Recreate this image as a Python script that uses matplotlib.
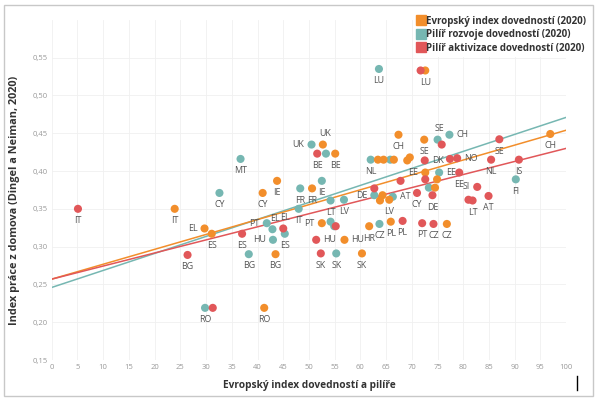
import numpy as np
import matplotlib
matplotlib.use('Agg')
import matplotlib.pyplot as plt
from matplotlib.patches import Rectangle
from matplotlib.lines import Line2D

plt.rcParams['font.family'] = ['Open Sans', 'DejaVu Sans']

# Evropsky index dovednosti (2020)
esi_x = [23.9, 29.7, 31.1, 41.3, 41.0, 43.8, 43.5, 52.7, 55.1, 50.6, 52.5, 56.9, 60.3, 61.7,
         65.9, 76.8, 65.6, 63.8, 64.3, 63.4, 64.5, 66.5, 69.1, 69.6, 67.4, 72.4, 72.6, 72.6,
         74.9, 74.5, 96.9]
esi_y = [0.350, 0.324, 0.317, 0.219, 0.371, 0.387, 0.290, 0.435, 0.423, 0.377, 0.331, 0.309,
         0.291, 0.327, 0.333, 0.330, 0.362, 0.361, 0.368, 0.415, 0.415, 0.415, 0.414, 0.418,
         0.448, 0.4415, 0.533, 0.398, 0.389, 0.378, 0.449]
esi_lab = ['IT', 'EL', 'ES', 'RO', 'CY', 'IE', 'BG', 'UK', 'BE', 'FR', 'PT', 'HU', 'SK', 'HR',
           'PL', 'CZ', 'LV', '', '', '', '', '', '', '', 'CH', 'SE', 'LU', 'EE',
           '', '', 'CH']

# Pilir rozvoje dovednosti (2020)
dev_x = [29.8, 32.6, 36.7, 38.3, 41.8, 42.9, 43.0, 45.3, 48.0, 48.3, 50.5, 53.3, 52.5, 54.2,
         56.8, 54.2, 54.9, 55.3, 63.7, 62.7, 66.3, 62.0, 65.8, 63.6, 75.0, 77.3, 75.3, 73.3, 90.2]
dev_y = [0.219, 0.371, 0.416, 0.290, 0.331, 0.323, 0.309, 0.317, 0.350, 0.377, 0.435, 0.423,
         0.387, 0.361, 0.362, 0.333, 0.327, 0.291, 0.330, 0.368, 0.366, 0.415, 0.415, 0.535,
         0.4415, 0.448, 0.398, 0.378, 0.389]
dev_lab = ['RO', 'CY', 'MT', 'BG', 'PT', 'EL', 'HU', 'ES', 'IT', 'FR', 'UK', '', 'IE', 'LT',
           'LV', '', '', 'SK', 'CZ', 'DE', 'AT', 'NL', '', 'LU', 'SE', 'CH', 'EE', '', 'FI']

# Pilir aktivizace dovednosti (2020)
act_x = [5.1, 26.4, 31.3, 37.0, 45.0, 51.6, 51.4, 52.3, 55.2, 62.7, 68.2, 72.0, 74.2, 67.8,
         71.0, 74.0, 72.6, 72.5, 71.7, 75.8, 77.4, 78.8, 79.2, 82.7, 81.0, 81.8, 84.9, 85.4,
         87.0, 90.8]
act_y = [0.350, 0.289, 0.219, 0.317, 0.324, 0.423, 0.309, 0.291, 0.327, 0.377, 0.334, 0.331,
         0.330, 0.387, 0.371, 0.368, 0.389, 0.414, 0.533, 0.435, 0.416, 0.417, 0.398, 0.379,
         0.362, 0.361, 0.367, 0.415, 0.442, 0.415]
act_lab = ['IT', 'BG', '', 'ES', 'EL', 'BE', 'HU', 'SK', '', '', 'PL', 'PT', 'CZ', '',
           'CY', 'DE', '', 'DK', '', '', '', 'NO', 'EE', 'SI', '', 'LT', 'AT', 'NL', 'SE', 'IS']

# trend lines: value at x=0 and x=100
trend_esi = [0.257, 0.454]
trend_dev = [0.246, 0.471]
trend_act = [0.257, 0.430]

# where each label sits relative to its dot (b below, a above, l left, r right)
esi_pos = ['b', 'l', 'b', 'b', 'b', 'b', 'b', 'a', 'b', 'b', 'l', 'r', 'b', 'b',
           'b', 'b', 'b', 'b', 'b', 'b', 'b', 'b', 'b', 'b', 'b', 'b', 'b', 'l', 'b', 'b', 'b']
dev_pos = ['b', 'b', 'b', 'b', 'l', 'a', 'l', 'b', 'b', 'b', 'l', 'b', 'b', 'b',
           'b', 'b', 'b', 'b', 'b', 'l', 'r', 'b', 'b', 'b', 'a', 'r', 'r', 'b', 'b']
act_pos = ['b', 'b', 'b', 'b', 'a', 'b', 'r', 'b', 'b', 'b', 'b', 'b', 'b', 'b',
           'b', 'b', 'b', 'r', 'b', 'b', 'b', 'r', 'b', 'l', 'b', 'b', 'b', 'b', 'b', 'b']

c_esi = '#F28E2B'
c_dev = '#76B7B2'
c_act = '#E15759'

fig = plt.figure(figsize=(6, 3.99), dpi=100)
ax = fig.add_axes([0.0862, 0.0977, 0.8575, 0.8526])

offs = {'b': ((0, -8.5), 'center', 'center'),
        'a': ((1.5, 7.8), 'center', 'center'),
        'l': ((-5, 0), 'right', 'center'),
        'r': ((5, 0), 'left', 'center')}

for xs, ys, labs, pos, col, tr in [(dev_x, dev_y, dev_lab, dev_pos, c_dev, trend_dev),
                                   (esi_x, esi_y, esi_lab, esi_pos, c_esi, trend_esi),
                                   (act_x, act_y, act_lab, act_pos, c_act, trend_act)]:
    ax.plot([0, 100], tr, color=col, lw=1.1, zorder=2)
    ax.scatter(xs, ys, s=34, color=col, edgecolors='none', zorder=3)
    for x, y, t, p in zip(xs, ys, labs, pos):
        if t == '':
            continue
        d, ha, va = offs[p]
        ax.annotate(t, (x, y), xytext=d, textcoords='offset points', ha=ha, va=va,
                    fontsize=6.4, color='#555555', zorder=4)

yt = np.arange(0.15, 0.551, 0.05)
ax.set_xlim(0, 100)
ax.set_ylim(0.15, 0.60)
ax.set_xticks(np.arange(0, 101, 5))
ax.set_yticks(yt)
ax.set_yticklabels([('%.2f' % v).replace('.', ',') for v in yt])
ax.tick_params(length=0, labelsize=5.5, colors='#999999', pad=3)
ax.grid(True, color='#f0f0f0', lw=0.6)
ax.set_axisbelow(True)
for s in ax.spines.values():
    s.set_visible(False)

ax.set_xlabel('Evropský index dovedností a pilíře', fontsize=7.3, fontweight='bold',
              color='#333333', labelpad=6)
ax.set_ylabel('Index práce z domova (Dingel a Neiman, 2020)', fontsize=7.8, fontweight='bold',
              color='#333333')
ax.yaxis.set_label_coords(-0.062, 0.47)

handles = [Line2D([], [], marker='s', ls='none', color=c, markersize=6.5) for c in (c_esi, c_dev, c_act)]
leg = fig.legend(handles, ['Evropský index dovedností (2020)', 'Pilíř rozvoje dovedností (2020)',
                           'Pilíř aktivizace dovedností (2020)'],
                 loc='upper left', bbox_to_anchor=(0.68, 0.98), frameon=True, fancybox=False,
                 edgecolor='none', facecolor='white', framealpha=1,
                 prop={'size': 7, 'weight': 'bold'}, labelcolor='#333333',
                 handletextpad=0.1, borderpad=0.3, labelspacing=0.25, handlelength=1.0)

fig.patches.append(Rectangle((0.007, 0.008), 0.982, 0.98, transform=fig.transFigure,
                             fill=False, edgecolor='#c8c8c8', lw=1))
fig.lines.append(Line2D([0.961, 0.961], [1 - 390 / 399, 1 - 376 / 399], transform=fig.transFigure,
                        color='black', lw=1))

fig.savefig('out.png', dpi=100)
